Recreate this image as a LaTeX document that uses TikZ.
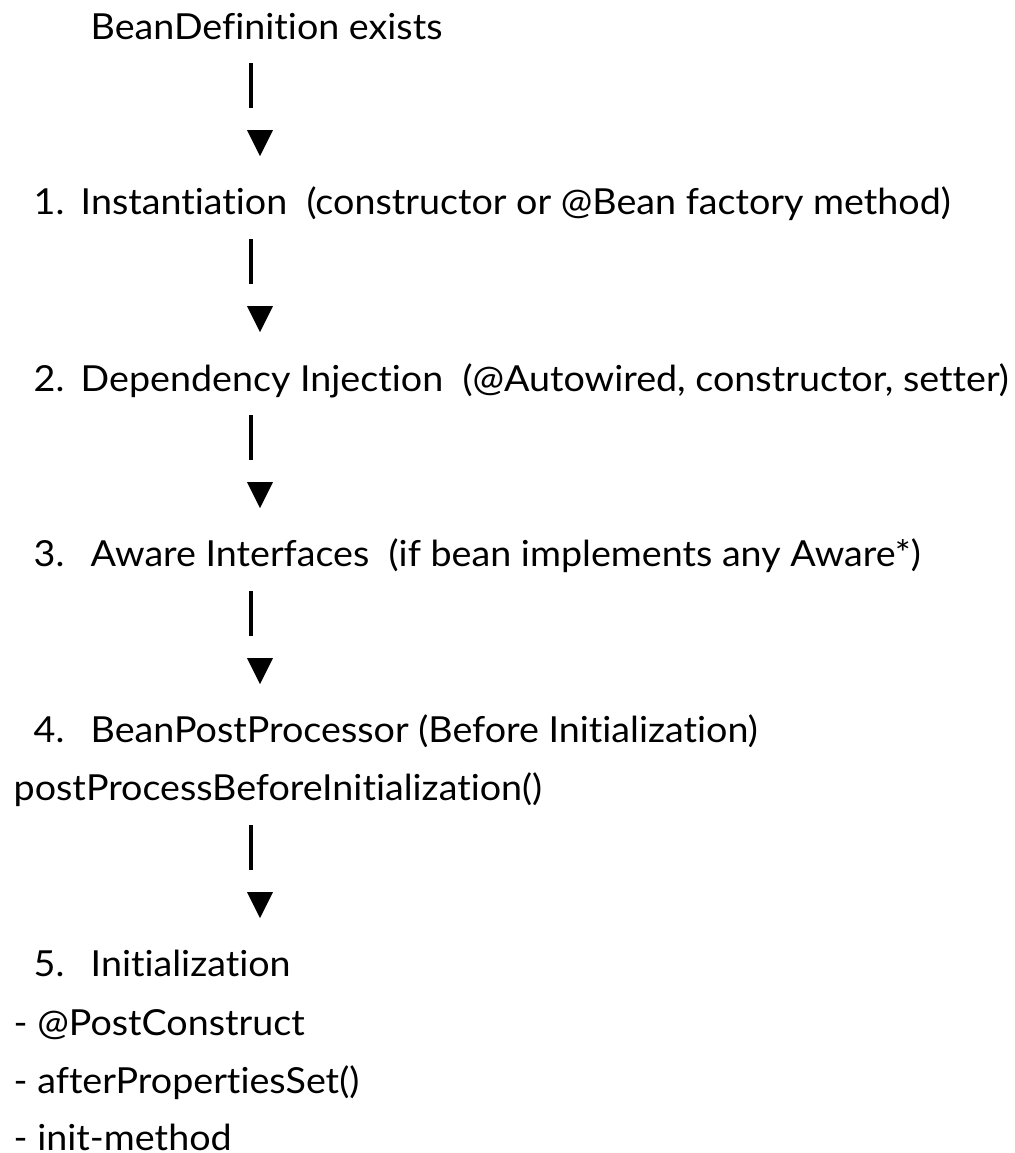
\documentclass[tikz,border=0pt]{standalone}
\usepackage{fontspec}
\setmainfont{Lato}[Ligatures=NoCommon,FakeStretch=1.05]
\begin{document}
\begin{tikzpicture}[x=0.01cm,y=-0.01cm,
  txt/.style={anchor=base west,inner sep=0pt,font=\fontsize{10.2pt}{12pt}\selectfont},
  bar/.style={line width=1.1pt},
  downtri/.pic={\fill (-13,0) -- (13,0) -- (0,26) -- cycle;}]
\useasboundingbox (0,0) rectangle (1015,1153);
\newcommand\num[2]{\makebox[#1][l]{#2}}
% lifecycle steps
\node[txt] (t0) at (90,39) {BeanDefinition exists};
\node[txt] (t1) at (33,214) {\num{0.47cm}{1.}Instantiation\ \ (constructor or @Bean factory method)};
\node[txt] (t2) at (33,391) {\num{0.47cm}{2.}Dependency Injection\ \ (@Autowired, constructor, setter)};
\node[txt] (t3) at (33,566) {\num{0.57cm}{3.}Aware Interfaces\ \ (if bean implements any Aware*)};
\node[txt] (t4) at (33,742) {\num{0.57cm}{4.}BeanPostProcessor (Before Initialization)};
\node[txt] (t4b) at (13,800) {postProcessBeforeInitialization()};
\node[txt] (t5) at (33,976) {\num{0.57cm}{5.}Initialization};
\node[txt] (t5a) at (13,1035) {- @PostConstruct};
\node[txt] (t5b) at (13,1093) {- afterPropertiesSet()};
\node[txt] (t5c) at (13,1150) {- init-method};
% connectors: a bar, then a downward triangle
\foreach \y [count=\i from 0] in {63,239,415,591,825}{
  \coordinate (c\i top) at (251,\y);
  \coordinate (c\i bot) at (251,\y+45);
  \draw[bar] (c\i top) -- (c\i bot);
  \pic at (260,\y+67) {downtri};
}
\end{tikzpicture}
\end{document}
